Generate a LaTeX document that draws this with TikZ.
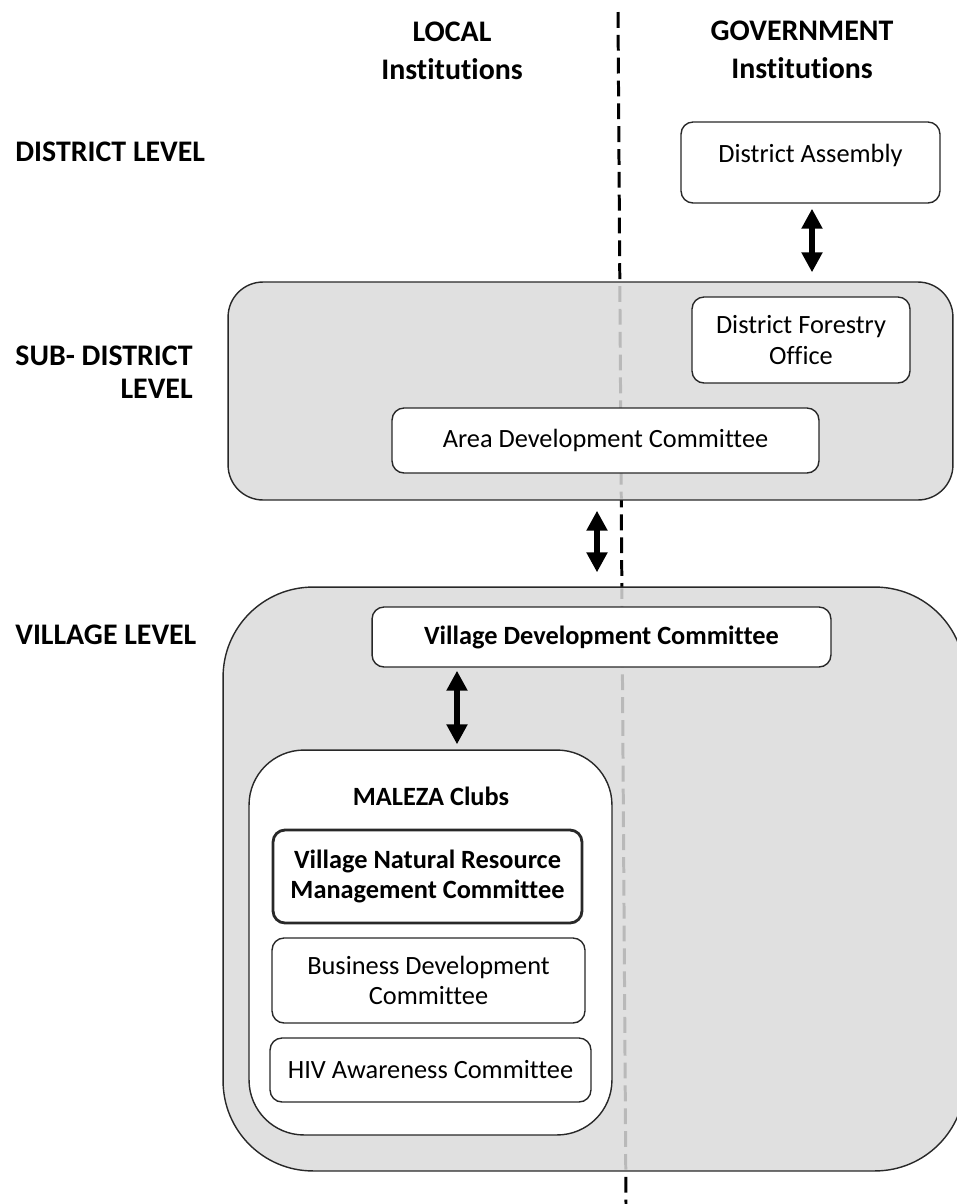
\documentclass[tikz,border=0pt]{standalone}
\usepackage{fontspec}
\setmainfont{Carlito}[Ligatures=NoCommon]
\usetikzlibrary{arrows.meta,positioning,calc}
\definecolor{ink}{RGB}{40,40,40}
\definecolor{shade}{RGB}{224,224,224}
\definecolor{faint}{RGB}{185,185,185}
\tikzset{
  boxtext/.style={font=\fontsize{15}{17.5}\selectfont,align=center},
  box/.style={draw=ink,fill=white,line width=0.8pt,rounded corners=0.24cm,
    inner sep=2pt,boxtext},
  strong box/.style={box,line width=1.6pt,font=\fontsize{15}{17.5}\selectfont\bfseries},
  level/.style={draw=ink,fill=#1,line width=0.8pt},
  level/.default=shade,
  head/.style={font=\fontsize{17}{21.5}\selectfont\bfseries,align=center,inner sep=0pt},
  twoway/.style={line width=3.3pt,>={Triangle[length=4mm,width=4mm]},<->},
  divide/.style={line width=1.7pt,dash pattern=on 9pt off 4pt,draw=#1},
  divide/.default=black,
}
\begin{document}
\begin{tikzpicture}[x=0.02cm,y=-0.02cm]
  \useasboundingbox (0,0) rectangle (957,1204);
  \coordinate (dtop) at (618,12);
  \coordinate (dbot) at (626,1204);
  \draw[divide] (dtop) -- (dbot);
  % column and level headings
  \node[head] (local) at (452,51) {LOCAL\\Institutions};
  \node[head] (gov) at (802,50) {GOVERNMENT\\Institutions};
  \node[head,anchor=west] (lvd) at (15,152) {DISTRICT LEVEL};
  \node[head,anchor=east,align=right,font=\fontsize{17}{18.5}\selectfont\bfseries] (lvs) at (193,372) {SUB- DISTRICT\\LEVEL};
  \node[head,anchor=west] (lvv) at (15,635) {VILLAGE LEVEL};
  % containers
  \node[level,rounded corners=0.7cm,minimum width=14.5cm,minimum height=4.36cm] (sub) at (590.5,391) {};
  \node[level,rounded corners=1.8cm,minimum width=14.84cm,minimum height=11.68cm] (village) at (594,879) {};
  \begin{scope}
    \clip ([shift={(2,-2)}]sub.south west) rectangle ([shift={(-2,2)}]sub.north east)
      ([shift={(2,-2)}]village.south west) rectangle ([shift={(-2,2)}]village.north east);
    \draw[divide=faint] (dtop) -- (dbot);
  \end{scope}
  \node[level=white,rounded corners=1.1cm,minimum width=7.26cm,minimum height=7.7cm] (maleza) at (430.5,942.5) {};
  % institutions
  \node[box,minimum width=5.18cm,minimum height=1.62cm,text height=0.4cm,text depth=0.4cm] (da) at (810.5,162.5) {District Assembly};
  \node[box,minimum width=4.36cm,minimum height=1.72cm] (dfo) at (801,340) {District Forestry\\Office};
  \node[box,minimum width=8.54cm,minimum height=1.3cm] (adc) at (605.5,440.5) {Area Development Committee};
  \node[box,minimum width=9.18cm,minimum height=1.2cm,font=\fontsize{15}{17.5}\selectfont\bfseries] (vdc) at (601.5,637) {Village Development Committee};
  \node[boxtext,font=\fontsize{15}{17.5}\selectfont\bfseries] (mtitle) at (431,796) {MALEZA Clubs};
  \node[strong box,minimum width=6.18cm,minimum height=1.86cm] (vnrm) at (427.5,876.5) {Village Natural Resource\\Management Committee};
  \node[box,minimum width=6.26cm,minimum height=1.7cm] (bdc) at (428.5,980.5) {Business Development\\Committee};
  \node[box,minimum width=6.42cm,minimum height=1.28cm] (hiv) at (430.5,1070) {HIV Awareness Committee};
  % links
  \draw[twoway] ($(da.south)+(1.5,5)$) -- ($(da.south |- sub.north)+(1.5,-9)$);
  \draw[twoway] ($(sub.south -| vdc.north)+(-4.5,10)$) -- ($(vdc.north |- village.north)+(-4.5,-14)$);
  \draw[twoway] ($(vdc.south -| maleza.north)+(26.5,3)$) -- ($(maleza.north)+(26.5,-5)$);
\end{tikzpicture}
\end{document}
